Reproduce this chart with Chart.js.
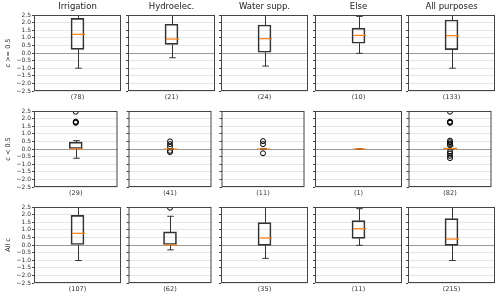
<!DOCTYPE html>
<html>
<head>
<meta charset="utf-8">
<script src="https://cdn.jsdelivr.net/npm/chart.js@4.4.0/dist/chart.umd.min.js"></script>
<style>
  html, body { margin: 0; padding: 0; background: #fff; }
  #wrap { position: relative; width: 500px; height: 297px; overflow: hidden; }
  #wrap canvas { position: absolute; }
</style>
</head>
<body>
<div id="wrap"></div>
<script>
// Panel columns / rows
const purposes = ['Irrigation', 'Hydroelec.', 'Water supp.', 'Else', 'All purposes'];
const groups = ['c >= 0.5', 'c < 0.5', 'All c'];
const yMin = -2.5;
const yMax = 2.5;
const yStep = 0.5;

// Sample size shown under each panel
const countsHigh = [78, 21, 24, 10, 133];
const countsLow = [29, 41, 11, 1, 82];
const countsAll = [107, 62, 35, 11, 215];

// Box stats per panel: [whisker low, q1, median, q3, whisker high]
const boxesHigh = [
  [-1.0, 0.24, 1.23, 2.28, 2.7],
  [-0.31, 0.57, 0.92, 1.89, 2.48],
  [-0.86, 0.05, 0.94, 1.84, 2.7],
  [-0.02, 0.64, 1.16, 1.64, 2.41],
  [-1.0, 0.22, 1.14, 2.17, 2.7]
];
const boxesLow = [
  [-0.61, 0.0, 0.0, 0.45, 0.55],
  [0.0, 0.0, 0.0, 0.0, 0.0],
  [0.0, 0.0, 0.0, 0.0, 0.0],
  [0.0, 0.0, 0.0, 0.0, 0.0],
  [-0.05, 0.0, 0.03, 0.08, 0.2]
];
const boxesAll = [
  [-1.02, 0.0, 0.77, 1.95, 2.7],
  [-0.32, 0.0, 0.0, 0.86, 1.89],
  [-0.88, -0.02, 0.46, 1.47, 2.7],
  [-0.02, 0.44, 1.07, 1.6, 2.39],
  [-1.02, -0.02, 0.39, 1.73, 2.7]
];

// Outlier points per panel
const outliersHigh = [[], [], [], [], []];
const outliersLow = [
  [2.45, 1.72, 1.76, 1.8],
  [0.5, 0.32, 0.15, -0.12, -0.2],
  [0.52, 0.32, -0.28],
  [],
  [2.45, 1.72, 1.76, 1.8, 0.55, 0.45, 0.35, 0.25, -0.18, -0.3, -0.45, -0.6]
];
const outliersAll = [[], [2.45], [], [], []];

const rows = [
  { counts: countsHigh, boxes: boxesHigh, outliers: outliersHigh },
  { counts: countsLow, boxes: boxesLow, outliers: outliersLow },
  { counts: countsAll, boxes: boxesAll, outliers: outliersAll }
];

Chart.defaults.font.family = "'DejaVu Sans', sans-serif";
Chart.defaults.color = '#333';

// whiskers, caps, median and the frame round the plot
const whiskerPlugin = {
  id: 'whiskers',
  afterDatasetsDraw(chart, args, opts) {
    const { ctx, chartArea: a, scales: { y } } = chart;
    const s = opts.stats;
    const bar = chart.getDatasetMeta(0).data[0];
    const cx = Math.round(bar.x) + 0.5;
    const half = bar.width / 2;
    const py = v => y.getPixelForValue(v);

    ctx.save();
    ctx.beginPath();
    ctx.rect(a.left, a.top, a.right - a.left, a.bottom - a.top);
    ctx.clip();
    ctx.strokeStyle = '#333';
    ctx.lineWidth = 1;
    ctx.beginPath();
    ctx.moveTo(cx, py(s[1])); ctx.lineTo(cx, py(s[0]));
    ctx.moveTo(cx, py(s[3])); ctx.lineTo(cx, py(s[4]));
    ctx.moveTo(cx - half / 2, py(s[0])); ctx.lineTo(cx + half / 2, py(s[0]));
    ctx.moveTo(cx - half / 2, py(s[4])); ctx.lineTo(cx + half / 2, py(s[4]));
    ctx.stroke();

    ctx.strokeStyle = '#ff7f0e';
    ctx.lineWidth = 1.2;
    ctx.beginPath();
    ctx.moveTo(cx - half, py(s[2])); ctx.lineTo(cx + half, py(s[2]));
    ctx.stroke();
    ctx.restore();

    ctx.save();
    ctx.strokeStyle = '#444';
    ctx.lineWidth = 1;
    ctx.strokeRect(a.left + 0.5, a.top + 0.5, a.right - a.left - 1, a.bottom - a.top - 1);
    ctx.restore();
  }
};

function fmtTick(v) {
  return (v < 0 ? '\u2212' : '') + Math.abs(v).toFixed(1);
}

const wrap = document.getElementById('wrap');

rows.forEach((r, row) => {
  purposes.forEach((p, col) => {
    const yW = col === 0 ? 34 : 3;
    const plotLeft = 34 + Math.round(col * 93.5);
    const plotTop = 15 + row * 96;

    const canvas = document.createElement('canvas');
    canvas.width = yW + 87;
    canvas.height = 105;
    canvas.style.left = (plotLeft - yW) + 'px';
    canvas.style.top = (plotTop - 15) + 'px';
    wrap.appendChild(canvas);

    const label = '(' + r.counts[col] + ')';
    const box = r.boxes[col];

    new Chart(canvas, {
      type: 'bar',
      data: {
        labels: [label],
        datasets: [{
          type: 'bar',
          data: [[box[1], box[3]]],
          backgroundColor: 'rgba(0,0,0,0)',
          borderColor: '#333',
          borderWidth: 1,
          borderSkipped: false,
          barThickness: 13,
          clip: 0
        }, {
          type: 'line',
          data: r.outliers[col].map(v => ({ x: label, y: v })),
          showLine: false,
          pointRadius: 2.5,
          pointHoverRadius: 2.5,
          pointBorderColor: '#000',
          pointBackgroundColor: 'rgba(0,0,0,0)',
          pointBorderWidth: 1,
          clip: 0
        }]
      },
      options: {
        responsive: false,
        animation: false,
        devicePixelRatio: 1,
        events: [],
        layout: { padding: { top: row === 0 ? 0 : 15 } },
        plugins: {
          legend: { display: false },
          tooltip: { enabled: false },
          title: {
            display: row === 0,
            text: p,
            fullSize: false,
            color: '#222',
            font: { size: 8.5, weight: 'normal' },
            padding: { top: 2, bottom: 2.8 }
          },
          whiskers: { stats: box }
        },
        scales: {
          x: {
            offset: true,
            afterFit: s => { s.height = 14; },
            grid: { display: false, drawTicks: false },
            border: { display: false },
            ticks: { font: { size: 6.5 }, color: '#333', padding: 2 }
          },
          y: {
            min: yMin,
            max: yMax,
            afterFit: s => { s.width = yW; },
            ticks: {
              display: col === 0,
              autoSkip: false,
              stepSize: yStep,
              font: { size: 6 },
              color: '#333',
              padding: 1,
              callback: v => fmtTick(v)
            },
            grid: {
              color: c => (c.tick && c.tick.value === 0) ? '#9a9a9a' : '#e6e6e6',
              tickColor: '#444',
              tickLength: 2,
              drawTicks: true
            },
            border: { display: false },
            title: {
              display: col === 0,
              text: groups[row],
              color: '#222',
              font: { size: 6.5 },
              padding: { top: 4, bottom: 0 }
            }
          }
        }
      },
      plugins: [whiskerPlugin]
    });
  });
});
</script>
</body>
</html>
